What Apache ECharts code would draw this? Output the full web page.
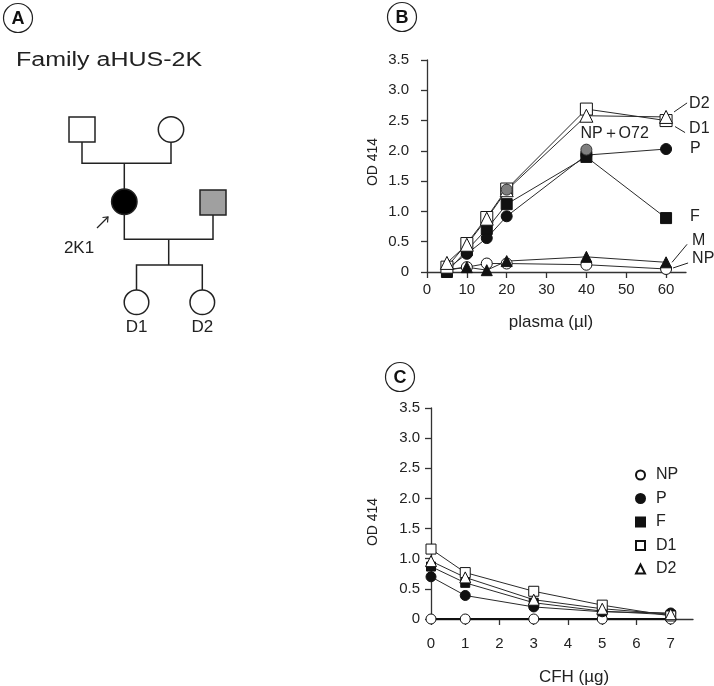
<!DOCTYPE html>
<html><head><meta charset="utf-8">
<script src="https://cdn.jsdelivr.net/npm/echarts@6/dist/echarts.min.js"></script>
<style>html,body{margin:0;padding:0;background:#fff}#c{width:714px;height:686px}</style>
</head><body><div id="c"></div>
<script>
// Panel B: OD 414 vs plasma (µl)
const bX = [5, 10, 15, 20, 40, 60];
const bNP = [0.04, 0.08, 0.14, 0.14, 0.12, 0.05];
const bM = [0.03, 0.08, 0.03, 0.18, 0.25, 0.16];
const bP = [0.05, 0.30, 0.56, 0.92, 1.93, 2.03];
const bF = [0.00, 0.36, 0.71, 1.12, 1.90, 0.89];
const bD1 = [0.08, 0.47, 0.90, 1.37, 2.69, 2.50];
const bD2 = [0.15, 0.45, 0.88, 1.35, 2.58, 2.56];
const bNPO72 = [null, null, null, 1.36, 2.02, null];
// Panel C: OD 414 vs CFH (µg)
const cX = [0, 1, 3, 5, 7];
const cNP = [0, 0, 0, 0, 0];
const cP = [0.70, 0.39, 0.20, 0.12, 0.10];
const cF = [0.87, 0.60, 0.27, 0.13, 0.07];
const cD1 = [1.16, 0.77, 0.46, 0.23, 0.05];
const cD2 = [0.96, 0.69, 0.32, 0.17, 0.08];
// tick labels
const yTicks = [0, 0.5, 1, 1.5, 2, 2.5, 3, 3.5];
const bXTicks = [0, 10, 20, 30, 40, 50, 60];
const cXTicks = [0, 1, 2, 3, 4, 5, 6, 7];
const legendNames = ['NP', 'P', 'F', 'D1', 'D2'];

const FONT = 'Liberation Sans, Arial, sans-serif';
const INK = '#222';
const pairs = (xs, ys) => xs.map((x, i) => [x, ys[i]]);

const openSt = {color: '#fff', borderColor: '#111', borderWidth: 1};
const fillSt = {color: '#111', borderColor: '#111', borderWidth: 1};
const greySt = {color: '#7f7f7f', borderColor: '#333', borderWidth: 1};

function ser(name, xi, xs, ys, symbol, size, st, extra) {
  return Object.assign({
    type: 'line', name: name, xAxisIndex: xi, yAxisIndex: xi,
    data: pairs(xs, ys), symbol: symbol, symbolSize: size, showSymbol: true,
    itemStyle: st, lineStyle: {color: '#2a2a2a', width: 1},
    clip: false, animation: false, connectNulls: false,
    emphasis: {disabled: true}
  }, extra || {});
}

const axisLineSt = {color: '#333', width: 1.3};
function yAxis(gi, margin) {
  return {
    type: 'value', gridIndex: gi, min: 0, max: 3.5, interval: 0.5,
    axisLine: {show: true, lineStyle: axisLineSt},
    axisTick: {show: true, length: 6, lineStyle: axisLineSt, customValues: yTicks},
    splitLine: {show: false},
    axisLabel: {fontSize: 15, color: INK, fontFamily: FONT, margin: margin, customValues: yTicks,
      formatter: v => v === 0 ? '0' : v.toFixed(1)}
  };
}
function xAxis(gi, max, interval, ticks, margin) {
  return {
    type: 'value', gridIndex: gi, min: 0, max: max, interval: interval,
    axisLine: {show: true, onZero: false, lineStyle: axisLineSt},
    axisTick: {show: true, length: 6, lineStyle: axisLineSt, customValues: ticks},
    splitLine: {show: false},
    axisLabel: {fontSize: 15, color: INK, fontFamily: FONT, margin: margin, customValues: ticks,
      formatter: v => String(v)}
  };
}

const chart = echarts.init(document.getElementById('c'), null, {renderer: 'canvas'});

const option = {
  backgroundColor: '#fff',
  animation: false,
  grid: [
    {left: 427, top: 60, width: 259, height: 212},
    {left: 431, top: 408, width: 262, height: 211}
  ],
  xAxis: [xAxis(0, 65, 10, bXTicks, 10), xAxis(1, 7.65, 1, cXTicks, 17)],
  yAxis: [yAxis(0, 18), yAxis(1, 11)],
  legend: {
    orient: 'vertical', left: 630, top: 462, itemWidth: 9, itemHeight: 9, itemGap: 7.5,
    selectedMode: false,
    textStyle: {fontSize: 16, color: INK, fontFamily: FONT, lineHeight: 16, padding: [0, 0, 0, 6]},
    data: [
      {name: 'NP', icon: 'circle'},
      {name: 'P', icon: 'circle'},
      {name: 'F', icon: 'rect'},
      {name: 'D1', icon: 'rect'},
      {name: 'D2', icon: 'triangle'}
    ]
  },
  series: [
    ser('B-NP', 0, bX, bNP, 'circle', 11, openSt),
    ser('B-M', 0, bX, bM, 'triangle', 11, fillSt),
    ser('B-P', 0, bX, bP, 'circle', 11, fillSt),
    ser('B-F', 0, bX, bF, 'rect', 11, fillSt),
    ser('B-D1', 0, bX, bD1, 'rect', 12, openSt),
    ser('B-D2', 0, bX, bD2, 'triangle', 13, openSt),
    ser('B-NPO72', 0, bX, bNPO72, 'circle', 11, greySt, {lineStyle: {width: 0, opacity: 0}}),
    ser('NP', 1, cX, cNP, 'circle', 10, openSt, {lineStyle: {color: '#111', width: 2}}),
    ser('P', 1, cX, cP, 'circle', 10, fillSt),
    ser('F', 1, cX, cF, 'rect', 9, fillSt),
    ser('D1', 1, cX, cD1, 'rect', 10, openSt),
    ser('D2', 1, cX, cD2, 'triangle', 11, openSt)
  ]
};
chart.setOption(option);

// ---- annotations ----
const g = [];
function txt(x, y, s, size, opts) {
  g.push(Object.assign({type: 'text', x: x, y: y, silent: true,
    style: Object.assign({text: s, fontSize: size, fontFamily: FONT, fill: INK,
      align: 'left', verticalAlign: 'middle'}, (opts && opts.style) || {})},
    opts && opts.el || {}));
}
function seg(pts, w) {
  g.push({type: 'polyline', silent: true, shape: {points: pts},
    style: {stroke: '#222', lineWidth: w || 1, fill: null}});
}
function circ(cx, cy, r, fill, w) {
  g.push({type: 'circle', silent: true, shape: {cx: cx, cy: cy, r: r},
    style: {fill: fill, stroke: '#222', lineWidth: w || 1.5}});
}
function rect(x, y, w, h, fill) {
  g.push({type: 'rect', silent: true, shape: {x: x, y: y, width: w, height: h},
    style: {fill: fill, stroke: '#222', lineWidth: 1.5}});
}
function panelLabel(cx, cy, s) {
  circ(cx, cy, 14.5, '#fff', 1.2);
  txt(cx, cy + 1, s, 18, {style: {align: 'center', fontWeight: 'bold', fill: '#111'}});
}
panelLabel(18, 18, 'A');
panelLabel(402, 17, 'B');
panelLabel(400, 377, 'C');

// Panel A pedigree
txt(16, 60, 'Family aHUS-2K', 20, {el: {scaleX: 1.25}});
rect(69, 117, 26, 25, '#fff');
circ(171, 129.5, 12.7, '#fff');
seg([[82, 142], [82, 163.3], [171, 163.3], [171, 142.2]], 1.5);
seg([[124.3, 163.3], [124.3, 189]], 1.5);
circ(124.3, 201.7, 12.7, '#000');
rect(200, 190, 26, 25, '#a0a0a0');
seg([[124.3, 214.4], [124.3, 239.3], [213, 239.3], [213, 215]], 1.5);
seg([[168.7, 239.3], [168.7, 265]], 1.5);
seg([[136.5, 290], [136.5, 265], [202.3, 265], [202.3, 290]], 1.5);
circ(136.5, 302.3, 12.3, '#fff');
circ(202.3, 302.3, 12.3, '#fff');
txt(136.5, 327, 'D1', 17, {style: {align: 'center'}});
txt(202.3, 327, 'D2', 17, {style: {align: 'center'}});
txt(79, 248, '2K1', 17, {style: {align: 'center'}});
seg([[97, 228], [108, 217]], 1.2);
seg([[102.5, 217.5], [108, 217], [107.5, 222.5]], 1.2);

// Axis titles
txt(373, 162, 'OD 414', 14, {style: {align: 'center'}, el: {rotation: Math.PI / 2}});
txt(551, 322, 'plasma (µl)', 17, {style: {align: 'center'}});
txt(373, 522, 'OD 414', 14, {style: {align: 'center'}, el: {rotation: Math.PI / 2}});
txt(574, 677, 'CFH (µg)', 17, {style: {align: 'center'}});

// Panel B series labels, placed relative to the last data points
const last = bX.length - 1;
const px = (x, y) => chart.convertToPixel({gridIndex: 0}, [x, y]);
let p;
p = px(bX[last], bD2[last]);
seg([[p[0] + 8, p[1] - 5], [p[0] + 21, p[1] - 14]]);
txt(p[0] + 23, p[1] - 13, 'D2', 16);
p = px(bX[last], bD1[last]);
seg([[p[0] + 9, p[1] + 6], [p[0] + 19, p[1] + 12]]);
txt(p[0] + 23, p[1] + 8, 'D1', 16);
p = px(bX[last], bP[last]);
txt(p[0] + 24, p[1], 'P', 16);
p = px(bX[last], bF[last]);
txt(p[0] + 24, p[1] - 1, 'F', 16);
p = px(bX[last], bM[last]);
seg([[p[0] + 6, p[1]], [p[0] + 21, p[1] - 18]]);
txt(p[0] + 26, p[1] - 22, 'M', 16);
p = px(bX[last], bNP[last]);
seg([[p[0] + 7, p[1] - 1], [p[0] + 22, p[1] - 6]]);
txt(p[0] + 26, p[1] - 10, 'NP', 16);
p = px(bX[4], bNPO72[4]);
txt(p[0] - 6, p[1] - 16, 'NP＋O72', 16);

chart.setOption({graphic: {elements: g}});
</script></body></html>
